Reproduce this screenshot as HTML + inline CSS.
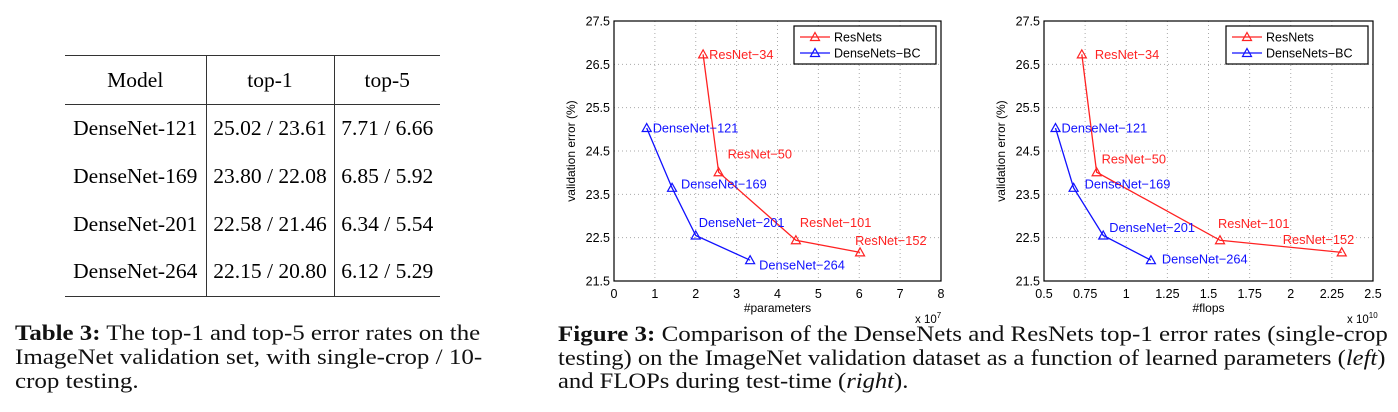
<!DOCTYPE html>
<html><head><meta charset="utf-8"><style>
body{margin:0;background:#fff;width:1398px;height:412px;overflow:hidden;position:relative;font-family:"Liberation Serif",serif;}
.ab{position:absolute;white-space:nowrap;}
table{position:absolute;left:65px;top:55px;border-collapse:collapse;table-layout:fixed;width:375px;font-size:21.5px;font-family:"Liberation Serif",serif;}
td{padding:0;height:47.7px;text-align:center;white-space:nowrap;}
.cap{color:#111;font-family:"Liberation Serif",serif;}
.cap span{display:inline-block;transform-origin:0 50%;}
svg text{font-family:"Liberation Sans",sans-serif;}
</style></head><body>
<table>
<colgroup><col style="width:141px"><col style="width:128px"><col style="width:106px"></colgroup>
<tr style="border-top:1.5px solid #333;border-bottom:1.5px solid #333"><td style="height:48px">Model</td><td style="border-left:1.5px solid #333">top-1</td><td style="border-left:1.5px solid #333">top-5</td></tr>
<tr><td>DenseNet-121</td><td style="border-left:1.5px solid #333">25.02 / 23.61</td><td style="border-left:1.5px solid #333">7.71 / 6.66</td></tr>
<tr><td>DenseNet-169</td><td style="border-left:1.5px solid #333">23.80 / 22.08</td><td style="border-left:1.5px solid #333">6.85 / 5.92</td></tr>
<tr><td>DenseNet-201</td><td style="border-left:1.5px solid #333">22.58 / 21.46</td><td style="border-left:1.5px solid #333">6.34 / 5.54</td></tr>
<tr style="border-bottom:1.5px solid #333"><td>DenseNet-264</td><td style="border-left:1.5px solid #333">22.15 / 20.80</td><td style="border-left:1.5px solid #333">6.12 / 5.29</td></tr>
</table>
<div class="ab cap" style="left:15px;top:321px;font-size:22px;line-height:24px"><span data-w="465"><b>Table 3:</b> The top-1 and top-5 error rates on the</span><br><span data-w="467">ImageNet validation set, with single-crop / 10-</span><br><span data-w="r">crop testing.</span></div>
<div class="ab cap" style="left:558px;top:322px;font-size:22px;line-height:23.5px"><span data-w="830"><b>Figure 3:</b> Comparison of the DenseNets and ResNets top-1 error rates (single-crop</span><br><span data-w="827">testing) on the ImageNet validation dataset as a function of learned parameters (<i>left</i>)</span><br><span data-w="r">and FLOPs during test-time (<i>right</i>).</span></div>
<svg id="chart" width="1398" height="412" style="position:absolute;left:0;top:0"></svg>
<script>
document.querySelectorAll('.cap').forEach(c=>{let last=1;c.querySelectorAll('span').forEach(s=>{const w=s.getAttribute('data-w');const k=w==='r'?last:(+w/s.offsetWidth);last=k;s.style.transform=`scaleX(${k})`;});});
const yTicks=[21.5,22.5,23.5,24.5,25.5,26.5,27.5];
const resNames=["ResNet-34","ResNet-50","ResNet-101","ResNet-152"];
const denseNames=["DenseNet-121","DenseNet-169","DenseNet-201","DenseNet-264"];
const resErr=[26.73,24.01,22.44,22.16];
const denseErr=[25.03,23.65,22.55,21.98];
const resParams=[2.18,2.56,4.45,6.02];
const denseParams=[0.80,1.42,2.00,3.33];
const resFlops=[0.73,0.82,1.57,2.31];
const denseFlops=[0.57,0.68,0.86,1.15];
const paramTicks=[0,1,2,3,4,5,6,7,8];
const flopTicks=[0.5,0.75,1,1.25,1.5,1.75,2,2.25,2.5];
const flopTickLabels=["0.5","0.75","1","1.25","1.5","1.75","2","2.25","2.5"];
const svg=document.getElementById('chart');
const NS='http://www.w3.org/2000/svg';
function mk(tag,attrs,parent){const e=document.createElementNS(NS,tag);for(const k in attrs)e.setAttribute(k,attrs[k]);(parent||svg).appendChild(e);return e;}
function tri(g,x,y,c){return mk('path',{d:`M${x},${y-4.5}L${x+4.5},${y+3.5}L${x-4.5},${y+3.5}Z`,fill:'none',stroke:c,'stroke-width':1.2},g);}
function chart(cfg){
  const g=mk('g',{});
  
  
  const L=cfg.x0,R=cfg.x1,T=21,B=281;
  const sx=v=>L+(v-cfg.xmin)/(cfg.xmax-cfg.xmin)*(R-L);
  const sy=v=>B-(v-21.5)/(27.5-21.5)*(B-T);
  cfg.xt.forEach((t,i)=>{const x=sx(t);
    if(i>0&&i<cfg.xt.length-1){const l=mk('line',{x1:x,x2:x,y1:T,y2:B,stroke:'#aaa','stroke-dasharray':'1,3'},g);}
    const tx=mk('text',{x:x,y:B+17,'font-size':12.5,'text-anchor':'middle'},g);tx.textContent=cfg.xl[i];
    });
  yTicks.forEach((t,i)=>{const y=sy(t);
    if(i>0&&i<yTicks.length-1){const l=mk('line',{x1:L,x2:R,y1:y,y2:y,stroke:'#aaa','stroke-dasharray':'1,3'},g);}
    const tx=mk('text',{x:L-4,y:y+4.5,'font-size':12.5,'text-anchor':'end'},g);tx.textContent=t.toFixed(1);
    });
  const box=mk('rect',{x:L,y:T,width:R-L,height:B-T,fill:'none',stroke:'#000','stroke-width':1.2},g);
  
  const yl=mk('text',{x:0,y:0,'font-size':12,'text-anchor':'middle',transform:`translate(${L-39},${(T+B)/2}) rotate(-90)`},g);yl.textContent='validation error (%)';
  
  const xl=mk('text',{x:(L+R)/2,y:B+31,'font-size':12,'text-anchor':'middle'},g);xl.textContent=cfg.xlabel;
  
  const ex=mk('text',{x:R-26,y:B+42,'font-size':11.5},g);ex.innerHTML=`x 10<tspan dy="-5" font-size="8">${cfg.exp}</tspan>`;
  
  [[cfg.rx,resErr,'#f22',resNames,cfg.rOff,'resnets-series'],[cfg.dx,denseErr,'#11f',denseNames,cfg.dOff,'densenets-series']].forEach(s=>{
    const pts=s[0].map((v,i)=>[sx(v),sy(s[1][i])]);
    const pl=mk('polyline',{points:pts.map(p=>p.join(',')).join(' '),fill:'none',stroke:s[2],'stroke-width':1.3},g);
    
    pts.forEach((p,i)=>{const m=tri(g,p[0],p[1],s[2]);
      
      const t=mk('text',{x:p[0]+s[4][i][0],y:p[1]+s[4][i][1]+4.5,'font-size':12.8,fill:s[2]},g);t.textContent=s[3][i];
      });
  });
  const lg=mk('g',{},g);
  const lx=R-147,ly=26;
  mk('rect',{x:lx,y:ly,width:142,height:38,fill:'#fff',stroke:'#000','stroke-width':1.2},lg);
  [['ResNets','#f22',ly+11],['DenseNets\u2212BC','#11f',ly+27]].forEach(e=>{
    mk('line',{x1:lx+6,x2:lx+36,y1:e[2],y2:e[2],stroke:e[1],'stroke-width':1.3},lg);tri(lg,lx+21,e[2],e[1]);
    const t=mk('text',{x:lx+40,y:e[2]+4.5,'font-size':12.5},lg);t.textContent=e[0];
    });
}
const fix=a=>a.map(n=>n.replace('-','\u2212'));
resNames.splice(0,4,...fix(resNames));denseNames.splice(0,4,...fix(denseNames));
chart({name:'params-chart',x0:614,x1:941,xmin:0,xmax:8,xt:paramTicks,xl:paramTicks.map(String),xlabel:'#parameters',exp:'7',
  rx:resParams,dx:denseParams,rOff:[[6,0],[9,-18],[4,-18],[-5,-12]],dOff:[[6,0],[9,-4],[3,-13],[9,5]]});
chart({name:'flops-chart',x0:1044,x1:1373,xmin:0.5,xmax:2.5,xt:flopTicks,xl:flopTickLabels,xlabel:'#flops',exp:'10',
  rx:resFlops,dx:denseFlops,rOff:[[13,0],[5,-13],[-2,-17],[-59,-13]],dOff:[[6,0],[11,-4],[6,-8],[11,-1]]});
</script>
</body></html>
